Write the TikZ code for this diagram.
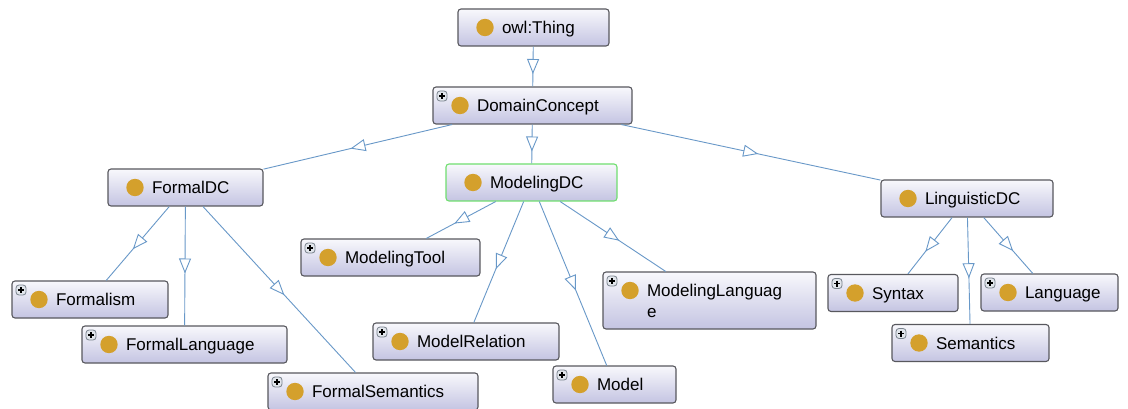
\documentclass[tikz,border=0pt]{standalone}
\usepackage{fontspec}
\setmainfont{Liberation Sans}
\usetikzlibrary{arrows.meta, decorations.markings}

\definecolor{edgeblue}{RGB}{104,152,200}
\definecolor{boxline}{RGB}{88,88,94}
\definecolor{boxtop}{RGB}{248,248,252}
\definecolor{boxbot}{RGB}{196,196,226}
\definecolor{classdot}{RGB}{212,160,44}
\definecolor{focusgreen}{RGB}{112,222,112}
\definecolor{plusline}{RGB}{120,130,140}
\definecolor{plusfill}{RGB}{226,230,236}

% class label: fixed box width, text after the dot
\newcommand{\clsname}[2]{\makebox[#1pt][l]{\hspace{44pt}#2}}

\tikzset{
  cls/.style={draw=boxline, line width=1.1pt, rounded corners=3pt,
    top color=boxtop, bottom color=boxbot, inner xsep=0pt, inner ysep=0pt,
    minimum height=37pt, text height=12pt, text depth=0pt,
    font=\fontsize{17}{21}\selectfont,
    path picture={
      \fill[classdot] ([shift={(27pt,-18.5pt)}]path picture bounding box.north west) circle (8.7pt);}},
  clsplus/.style={cls,
    path picture={
      \fill[classdot] ([shift={(27pt,-18.5pt)}]path picture bounding box.north west) circle (8.7pt);
      \draw[plusline, fill=plusfill, line width=0.8pt]
        ([shift={(4pt,-4pt)}]path picture bounding box.north west) rectangle ++(10pt,-10pt);
      \draw[black, line width=1.4pt]
        ([shift={(6pt,-9pt)}]path picture bounding box.north west) -- ++(6pt,0pt)
        ([shift={(9pt,-6pt)}]path picture bounding box.north west) -- ++(0pt,-6pt);}},
  isa/.style={edgeblue, line width=0.9pt, postaction={decorate},
    decoration={markings, mark=at position 0.5 with
      {\arrow[xshift=7.5pt]{Triangle[length=15pt, width=12pt, fill=white]}}}}
}

\begin{document}
\begin{tikzpicture}[x=1pt, y=-1pt]
    \fill[white] (0,0) rectangle (1128,409);
    \useasboundingbox (0,0) rectangle (1128,409);

    % top of the hierarchy
    \node[cls] (thing) at (533.5,27.5) {\clsname{151}{owl:Thing}};
    \node[clsplus] (domain) at (532.5,105.5) {\clsname{199}{DomainConcept}};

    % second level
    \node[cls] (formal) at (185.5,187.5) {\clsname{155}{FormalDC}};
    \node[cls, draw=focusgreen] (modeling) at (531.5,182.5) {\clsname{171}{ModelingDC}};
    \node[cls] (linguistic) at (967,198.5) {\clsname{172}{LinguisticDC}};

    % children of FormalDC
    \node[clsplus] (formalism) at (90,299.5) {\clsname{156}{Formalism}};
    \node[clsplus] (formallang) at (184.5,344.5) {\clsname{205}{FormalLanguage}};
    \node[clsplus] (formalsem) at (373,391.5) {\clsname{210}{FormalSemantics}};

    % children of ModelingDC
    \node[clsplus] (tool) at (390.5,257.5) {\clsname{179}{ModelingTool}};
    \node[clsplus] (relation) at (466,341.5) {\clsname{186}{ModelRelation}};
    \node[clsplus] (model) at (614.5,384.5) {\clsname{123}{Model}};
    \node[clsplus, minimum height=57pt, text depth=21pt] (modellang) at (709.5,300.5)
        {\clsname{213}{\begin{tabular}[t]{@{}l@{}}ModelingLanguag\\e\end{tabular}}};

    % children of LinguisticDC
    \node[clsplus] (syntax) at (893,293) {\clsname{130}{Syntax}};
    \node[clsplus] (semantics) at (970.5,343) {\clsname{157}{Semantics}};
    \node[clsplus] (language) at (1049.5,292.5) {\clsname{137}{Language}};

    % subclass links
    \draw[isa] (thing) -- (domain);
    \draw[isa] (domain) -- (formal);
    \draw[isa] (domain) -- (modeling);
    \draw[isa] (domain) -- (linguistic);
    \draw[isa] (formal) -- (formalism);
    \draw[isa] (formal) -- (formallang);
    \draw[isa] (formal) -- (formalsem);
    \draw[isa] (modeling) -- (tool);
    \draw[isa] (modeling) -- (relation);
    \draw[isa] (modeling) -- (model);
    \draw[isa] (modeling) -- (modellang);
    \draw[isa] (linguistic) -- (syntax);
    \draw[isa] (linguistic) -- (semantics);
    \draw[isa] (linguistic) -- (language);
\end{tikzpicture}
\end{document}
